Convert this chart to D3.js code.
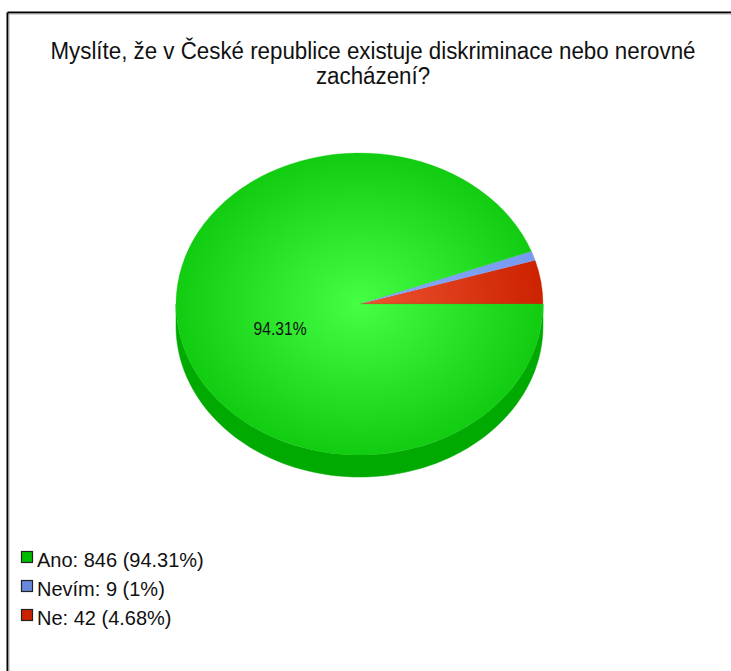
<!DOCTYPE html>
<html>
<head>
<meta charset="utf-8">
<script src="https://cdn.jsdelivr.net/npm/d3@7"></script>
<style>
  html, body { margin: 0; padding: 0; background: #fff; }
  svg { display: block; }
</style>
</head>
<body>
<svg id="chart" width="731" height="671"></svg>
<script>
// Survey answers (legend order)
const categories = ["Ano", "Nevím", "Ne"];
const counts = [846, 9, 42];
const percents = ["94.31%", "1%", "4.68%"];
const topColors = ["#11cc11", "#7799ee", "#cc2200"];
const centerColors = ["#44ff44", "#88aaff", "#ee5533"];
const sideColors = ["#00aa00", "#5577cc", "#aa1a00"];
const legendColors = ["#00bb00", "#6688dd", "#cc2200"];
const title = ["Myslíte, že v České republice existuje diskriminace nebo nerovné", "zacházení?"];

const W = 731, H = 671;
const FONT = "Liberation Sans, Arial, sans-serif";
const svg = d3.select("#chart");
const defs = svg.append("defs");

// Frame: dark line along top and left with a soft grey inner edge
svg.append("line").attr("x1", 7.5).attr("y1", 12.5).attr("x2", W).attr("y2", 12.5)
  .attr("stroke", "#000").attr("stroke-width", 2);
svg.append("line").attr("x1", 7.5).attr("y1", 12.5).attr("x2", 7.5).attr("y2", H)
  .attr("stroke", "#000").attr("stroke-width", 2);
svg.append("line").attr("x1", 9).attr("y1", 14).attr("x2", W).attr("y2", 14)
  .attr("stroke", "#aaa").attr("stroke-width", 1);
svg.append("line").attr("x1", 9).attr("y1", 14).attr("x2", 9).attr("y2", H)
  .attr("stroke", "#aaa").attr("stroke-width", 1);

// Title in a narrow face: both lines share one horizontal squeeze
const titleY = [59, 84];
const titleEls = title.map((t, i) => svg.append("text")
  .attr("x", 373).attr("y", titleY[i])
  .attr("text-anchor", "middle")
  .attr("font-family", FONT)
  .attr("font-size", 23)
  .attr("fill", "#111")
  .text(t));
const squeeze = 645 / titleEls[0].node().getComputedTextLength();
titleEls.forEach(el => {
  const w = el.node().getComputedTextLength();
  el.attr("textLength", w * squeeze).attr("lengthAdjust", "spacingAndGlyphs");
});

// 3D pie geometry
const cx = 359.5, cy = 304, rx = 183.5, ry = 151, depth = 22;

const data = categories.map((c, i) => ({ i, cat: c, value: counts[i] }));
// Slices start at 3 o'clock and run counter-clockwise, last series first
const pie = d3.pie().value(d => d.value).sort(null)
  .startAngle(Math.PI / 2).endAngle(Math.PI / 2 - 2 * Math.PI);
const arcs = pie(data.slice().reverse());

const arc = d3.arc().innerRadius(0).outerRadius(rx);

// Side wall: for each slice, the part facing the viewer (parametric t in [0, π])
function frontRange(a0, a1) {
  const t0 = Math.min(a0, a1) - Math.PI / 2, t1 = Math.max(a0, a1) - Math.PI / 2;
  const out = [];
  for (let k = -2; k <= 2; k++) {
    const lo = Math.max(t0 + 2 * Math.PI * k, 0), hi = Math.min(t1 + 2 * Math.PI * k, Math.PI);
    if (hi > lo) out.push([lo, hi]);
  }
  return out;
}
const sideG = svg.append("g");
arcs.forEach(a => {
  frontRange(a.startAngle, a.endAngle).forEach(([lo, hi]) => {
    const n = 80;
    const ts = d3.range(n + 1).map(k => lo + (hi - lo) * k / n);
    const pts = ts.map(t => [cx + rx * Math.cos(t), cy + ry * Math.sin(t)])
      .concat(ts.slice().reverse().map(t => [cx + rx * Math.cos(t), cy + depth + ry * Math.sin(t)]));
    sideG.append("path")
      .attr("d", d3.line()(pts) + "Z")
      .attr("fill", sideColors[a.data.i])
      .attr("stroke", sideColors[a.data.i]).attr("stroke-width", 0.5);
  });
});

// Top face: circular arcs squashed into an ellipse
const topG = svg.append("g")
  .attr("transform", `translate(${cx},${cy}) scale(1,${ry / rx})`);
categories.forEach((c, i) => {
  const g = defs.append("radialGradient").attr("id", "grad" + i)
    .attr("gradientUnits", "userSpaceOnUse")
    .attr("cx", 0).attr("cy", 0).attr("r", rx);
  g.append("stop").attr("offset", "0%").attr("stop-color", centerColors[i]);
  g.append("stop").attr("offset", "100%").attr("stop-color", topColors[i]);
});
topG.selectAll("path.slice").data(arcs).join("path")
  .attr("class", "slice")
  .attr("d", arc)
  .attr("fill", d => `url(#grad${d.data.i})`)
  .attr("stroke", d => topColors[d.data.i]).attr("stroke-width", 0.3);

// Value label on the largest slice
const big = arcs.find(a => a.data.i === 0);
const labelArc = d3.arc().innerRadius(rx * 0.88).outerRadius(rx * 0.88);
const [lx, ly] = labelArc.centroid(big);
const lbl = svg.append("text")
  .attr("x", cx + lx * 0.5).attr("y", cy + ly * 0.5 * ry / rx + 19)
  .attr("text-anchor", "middle")
  .attr("font-family", FONT)
  .attr("font-size", 18)
  .attr("fill", "#111")
  .text(percents[0]);
lbl.attr("textLength", 53).attr("lengthAdjust", "spacingAndGlyphs");

// Legend
const legend = svg.append("g");
categories.forEach((c, i) => {
  const base = 567 + i * 29;
  legend.append("rect")
    .attr("x", 21.5).attr("y", base - 15.5).attr("width", 11).attr("height", 11)
    .attr("fill", legendColors[i]).attr("stroke", "#222").attr("stroke-width", 1.2);
  legend.append("text")
    .attr("x", 37).attr("y", base)
    .attr("font-family", FONT)
    .attr("font-size", 20)
    .attr("fill", "#111")
    .text(`${c}: ${counts[i]} (${percents[i]})`);
});
</script>
</body>
</html>
